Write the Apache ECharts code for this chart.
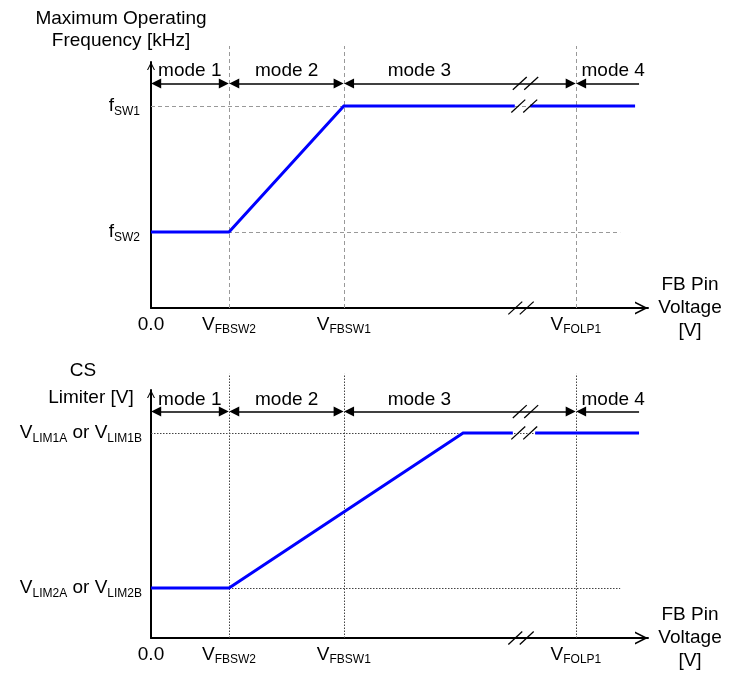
<!DOCTYPE html>
<html><head><meta charset="utf-8">
<script src="https://cdn.jsdelivr.net/npm/echarts@6/dist/echarts.min.js"></script>
<style>html,body{margin:0;padding:0;background:#fff}#c{width:732px;height:678px}</style>
</head><body><div id="c"></div>
<script>
// ---------------- data ----------------
const xTickValues = [0, 15.7, 38.8, 85.5];
const xTickLabels = ['0.0', 'V_FBSW2', 'V_FBSW1', 'V_FOLP1'];
const modeNames = ['mode 1', 'mode 2', 'mode 3', 'mode 4'];
const modeBounds = [0, 15.7, 38.8, 85.5, 98.2];
const modeLabelX = [7.8, 27.3, 54.0, 93.0];

// upper chart: maximum operating frequency
const freqLevels = [30.9, 82.1];
const freqLabels = ['f_SW2', 'f_SW1'];
const freqX = [0, 15.7, 38.8, 73.2, 76.3, 97.4];
const freqY = [30.9, 30.9, 82.1, 82.1, 82.1, 82.1];

// lower chart: CS limiter
const limLevels = [20.2, 82.7];
const limLabels = ['V_LIM2A or V_LIM2B', 'V_LIM1A or V_LIM1B'];
const limX = [0, 15.7, 62.8, 72.8, 77.3, 98.2];
const limY = [20.2, 20.2, 82.7, 82.7, 82.7, 82.7];

const breakAfter = 3;            // curve is interrupted between point 3 and 4

// ---------------- layout / style ----------------
const FONT = '"Liberation Sans", Arial, sans-serif';
const FS = 19;
const modeArrowY = 91.3, guideTop = 106.5, guideRight = 94.4;
const arrowInset = 1.05;
const slashRows = { mode: [74.2, 76.5], curve: [73.9, 76.3], axis: [73.3, 75.6] };
const slashDX = 1.4, slashDY = 2.6;
const arrowPath = 'path://M0,10L5,0L10,10L8.6,10L5,2.8L1.4,10Z';

const richStyle = {
  m: { fontFamily: FONT, fontSize: FS, lineHeight: 23, color: '#000' },
  s: { fontFamily: FONT, fontSize: 12, lineHeight: 14, verticalAlign: 'bottom', color: '#000' }
};
function rich(s) {
  return s.split(/(_\S+)/).filter(Boolean)
    .map(p => p[0] === '_' ? '{s|' + p.slice(1) + '}' : '{m|' + p + '}').join('');
}

function panel(i, cfg) {
  const grid = { left: 151, right: 84, top: cfg.top, bottom: cfg.bottom, outerBoundsMode: 'none' };
  const xAxis = {
    gridIndex: i, type: 'value', min: 0, max: 100,
    axisLine: { show: true, onZero: false, lineStyle: { color: '#000', width: 2 },
      symbol: ['none', arrowPath], symbolSize: [13, 13], symbolOffset: [0, -6.5] },
    axisTick: { show: false }, splitLine: { show: false },
    axisLabel: { customValues: xTickValues, margin: 5, rich: richStyle,
      formatter: v => rich(xTickLabels[xTickValues.indexOf(v)]) },
    name: 'FB Pin\nVoltage\n[V]', nameLocation: 'end', nameGap: 42,
    nameTextStyle: { fontFamily: FONT, fontSize: FS, lineHeight: 23, color: '#000',
      align: 'center', verticalAlign: 'middle', padding: [cfg.nameShift, 0, 0, 0] }
  };
  const yAxis = {
    gridIndex: i, type: 'value', min: 0, max: 100,
    axisLine: { show: true, onZero: false, lineStyle: { color: '#000', width: 2 },
      symbol: ['none', arrowPath], symbolSize: [9, 8], symbolOffset: [0, -4] },
    axisTick: { show: false }, splitLine: { show: false },
    axisLabel: { customValues: cfg.levels, margin: cfg.yMargin, rich: richStyle,
      formatter: v => rich(cfg.levelLabels[cfg.levels.indexOf(v)]) }
  };
  const ax = { coordinateSystem: 'cartesian2d', xAxisIndex: i, yAxisIndex: i };
  const plateau = cfg.curveY[cfg.curveY.length - 1];
  const pts = cfg.curveX.map((x, k) => [x, cfg.curveY[k]]);
  const series = [
    Object.assign({ type: 'lines', clip: false, silent: true, symbol: ['none', 'none'],
      lineStyle: { color: cfg.guideColor, width: 1, type: cfg.guideDash, opacity: 1 },
      data: xTickValues.slice(1).map(x => ({ coords: [[x, 0], [x, guideTop]] }))
        .concat(cfg.levels.map(y => ({ coords: [[0, y], [guideRight, y]] }))) }, ax),
    Object.assign({ type: 'lines', polyline: true, clip: false, silent: true,
      lineStyle: { color: '#0000ff', width: 3, opacity: 1, join: 'miter' },
      data: [{ coords: pts.slice(0, breakAfter + 1) }, { coords: pts.slice(breakAfter + 1) }] }, ax),
    Object.assign({ type: 'lines', clip: false, silent: true, symbol: ['triangle', 'triangle'], symbolSize: 10,
      lineStyle: { color: '#000', width: 1.5, opacity: 1 }, itemStyle: { color: '#000' },
      data: [0, 1, 2].map(k => ({ coords: [[modeBounds[k] + arrowInset, modeArrowY], [modeBounds[k + 1] - arrowInset, modeArrowY]] }))
        .concat([{ coords: [[modeBounds[4], modeArrowY], [modeBounds[3] + arrowInset, modeArrowY]], symbol: ['none', 'triangle'] }]) }, ax),
    Object.assign({ type: 'lines', clip: false, silent: true, symbol: ['none', 'none'],
      lineStyle: { color: '#000', width: 1.3, opacity: 1 },
      data: [].concat(
        slashRows.mode.map(c => ({ coords: [[c - slashDX, modeArrowY - slashDY], [c + slashDX, modeArrowY + slashDY]] })),
        slashRows.curve.map(c => ({ coords: [[c - slashDX, plateau - slashDY], [c + slashDX, plateau + slashDY]] })),
        slashRows.axis.map(c => ({ coords: [[c - slashDX, -slashDY], [c + slashDX, slashDY]] }))) }, ax),
    Object.assign({ type: 'scatter', symbol: 'circle', symbolSize: 0, silent: true, itemStyle: { color: '#000', opacity: 1 },
      label: { show: true, position: 'inside', formatter: '{b}', fontFamily: FONT, fontSize: FS,
        color: '#000', textBorderWidth: 0, textBorderColor: 'transparent', opacity: 1 },
      data: modeLabelX.map((x, k) => ({ name: modeNames[k], value: [x, cfg.modeLabelY] })) }, ax)
  ];
  return { grid, xAxis, yAxis, series };
}

const p1 = panel(0, { top: 62, bottom: 370, levels: freqLevels, levelLabels: freqLabels, modeLabelY: 96.3,
  curveX: freqX, curveY: freqY, guideColor: '#999', guideDash: [4, 3], yMargin: 11, nameShift: 22 });
const p2 = panel(1, { top: 390, bottom: 40, levels: limLevels, levelLabels: limLabels, modeLabelY: 96.0,
  curveX: limX, curveY: limY, guideColor: '#444', guideDash: [1.5, 1.5], yMargin: 9, nameShift: 12 });

const txt = (x, y, t) => ({ type: 'text', x, y, silent: true,
  style: { text: t, fontFamily: FONT, fontSize: FS, lineHeight: 22, fill: '#000',
    align: 'center', verticalAlign: 'middle', textAlign: 'center', textVerticalAlign: 'middle' } });

const chart = echarts.init(document.getElementById('c'), null, { renderer: 'canvas' });
chart.setOption({
  animation: false,
  backgroundColor: '#fff',
  grid: [p1.grid, p2.grid],
  xAxis: [p1.xAxis, p2.xAxis],
  yAxis: [p1.yAxis, p2.yAxis],
  series: p1.series.concat(p2.series),
  graphic: [
    txt(121, 30, 'Maximum Operating\nFrequency [kHz]'),
    txt(83, 371, 'CS'),
    txt(91, 398, 'Limiter [V]')
  ]
});
</script></body></html>
